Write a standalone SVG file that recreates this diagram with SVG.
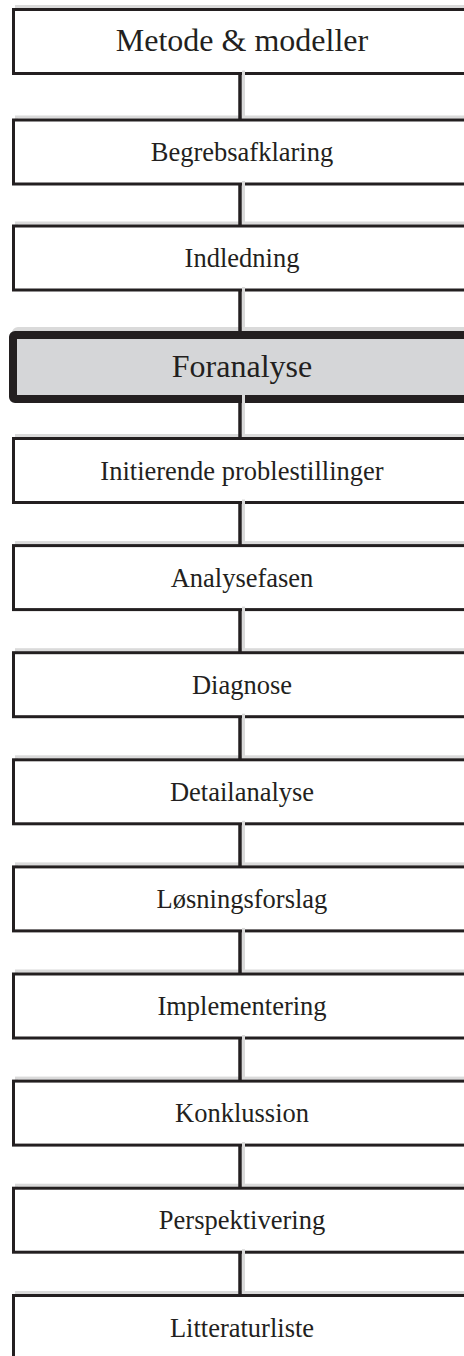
<svg xmlns="http://www.w3.org/2000/svg" width="464" height="1356" viewBox="0 0 464 1356">
  <style>
    .shadow { fill: none; stroke: #dadada; stroke-width: 3; }
    .box { fill: #ffffff; stroke: #231f20; stroke-width: 3; }
    .hl-shadow { fill: none; stroke: #dadada; stroke-width: 8; }
    .hl { fill: #d5d6d8; stroke: #231f20; stroke-width: 8; }
    .label { font-family: "Liberation Serif", "Times New Roman", serif; font-size: 26.5px; fill: #231f20; text-anchor: middle; }
    .big { font-size: 32px; }
    .link-shadow { stroke: #dadada; stroke-width: 3; }
    .link { stroke: #231f20; stroke-width: 3.5; }
  </style>
  <rect width="464" height="1356" fill="#ffffff"/>

  <g id="metode">
    <rect class="shadow" x="16.5" y="6.5" width="457" height="64"/>
    <rect class="box" x="13.5" y="9.5" width="457" height="64"/>
    <text class="label big" x="242" y="51">Metode &amp; modeller</text>
  </g>
  <g id="begrebsafklaring">
    <rect class="shadow" x="16.5" y="117" width="457" height="64"/>
    <rect class="box" x="13.5" y="120" width="457" height="64"/>
    <text class="label" x="242" y="161">Begrebsafklaring</text>
  </g>
  <g id="indledning">
    <rect class="shadow" x="16.5" y="223" width="457" height="64"/>
    <rect class="box" x="13.5" y="226" width="457" height="64"/>
    <text class="label" x="242" y="267">Indledning</text>
  </g>
  <g id="foranalyse">
    <rect class="hl-shadow" x="16" y="331" width="458" height="64" rx="2"/>
    <rect class="hl" x="13" y="335" width="458" height="64" rx="2"/>
    <text class="label big" x="242" y="377">Foranalyse</text>
  </g>
  <g id="initierende">
    <rect class="shadow" x="16.5" y="435.5" width="457" height="64"/>
    <rect class="box" x="13.5" y="438.5" width="457" height="64"/>
    <text class="label" x="242" y="479.5">Initierende problestillinger</text>
  </g>
  <g id="analysefasen">
    <rect class="shadow" x="16.5" y="542.6" width="457" height="64"/>
    <rect class="box" x="13.5" y="545.6" width="457" height="64"/>
    <text class="label" x="242" y="586.6">Analysefasen</text>
  </g>
  <g id="diagnose">
    <rect class="shadow" x="16.5" y="649.7" width="457" height="64"/>
    <rect class="box" x="13.5" y="652.7" width="457" height="64"/>
    <text class="label" x="242" y="693.7">Diagnose</text>
  </g>
  <g id="detailanalyse">
    <rect class="shadow" x="16.5" y="756.8" width="457" height="64"/>
    <rect class="box" x="13.5" y="759.8" width="457" height="64"/>
    <text class="label" x="242" y="800.8">Detailanalyse</text>
  </g>
  <g id="loesningsforslag">
    <rect class="shadow" x="16.5" y="863.9" width="457" height="64"/>
    <rect class="box" x="13.5" y="866.9" width="457" height="64"/>
    <text class="label" x="242" y="907.9">Løsningsforslag</text>
  </g>
  <g id="implementering">
    <rect class="shadow" x="16.5" y="971" width="457" height="64"/>
    <rect class="box" x="13.5" y="974" width="457" height="64"/>
    <text class="label" x="242" y="1015">Implementering</text>
  </g>
  <g id="konklussion">
    <rect class="shadow" x="16.5" y="1078.1" width="457" height="64"/>
    <rect class="box" x="13.5" y="1081.1" width="457" height="64"/>
    <text class="label" x="242" y="1122.1">Konklussion</text>
  </g>
  <g id="perspektivering">
    <rect class="shadow" x="16.5" y="1185.2" width="457" height="64"/>
    <rect class="box" x="13.5" y="1188.2" width="457" height="64"/>
    <text class="label" x="242" y="1229.2">Perspektivering</text>
  </g>
  <g id="litteraturliste">
    <rect class="shadow" x="16.5" y="1292.5" width="457" height="64"/>
    <rect class="box" x="13.5" y="1295.5" width="457" height="64"/>
    <text class="label" x="242" y="1336.5">Litteraturliste</text>
  </g>

  <g id="connectors">
    <line class="link-shadow" x1="243.5" y1="70.5" x2="243.5" y2="117"/>
    <line class="link-shadow" x1="243.5" y1="181" x2="243.5" y2="223"/>
    <line class="link-shadow" x1="243.5" y1="287" x2="243.5" y2="331"/>
    <line class="link-shadow" x1="243.5" y1="395" x2="243.5" y2="435.5"/>
    <line class="link-shadow" x1="243.5" y1="499.5" x2="243.5" y2="542.6"/>
    <line class="link-shadow" x1="243.5" y1="606.6" x2="243.5" y2="649.7"/>
    <line class="link-shadow" x1="243.5" y1="713.7" x2="243.5" y2="756.8"/>
    <line class="link-shadow" x1="243.5" y1="820.8" x2="243.5" y2="863.9"/>
    <line class="link-shadow" x1="243.5" y1="927.9" x2="243.5" y2="971"/>
    <line class="link-shadow" x1="243.5" y1="1035" x2="243.5" y2="1078.1"/>
    <line class="link-shadow" x1="243.5" y1="1142.1" x2="243.5" y2="1185.2"/>
    <line class="link-shadow" x1="243.5" y1="1249.2" x2="243.5" y2="1292.5"/>

    <line class="link" x1="240" y1="73.5" x2="240" y2="120"/>
    <line class="link" x1="240" y1="184" x2="240" y2="226"/>
    <line class="link" x1="240" y1="290" x2="240" y2="331"/>
    <line class="link" x1="240" y1="399" x2="240" y2="438.5"/>
    <line class="link" x1="240" y1="502.5" x2="240" y2="545.6"/>
    <line class="link" x1="240" y1="609.6" x2="240" y2="652.7"/>
    <line class="link" x1="240" y1="716.7" x2="240" y2="759.8"/>
    <line class="link" x1="240" y1="823.8" x2="240" y2="866.9"/>
    <line class="link" x1="240" y1="930.9" x2="240" y2="974"/>
    <line class="link" x1="240" y1="1038" x2="240" y2="1081.1"/>
    <line class="link" x1="240" y1="1145.1" x2="240" y2="1188.2"/>
    <line class="link" x1="240" y1="1252.2" x2="240" y2="1295.5"/>
  </g>
</svg>
